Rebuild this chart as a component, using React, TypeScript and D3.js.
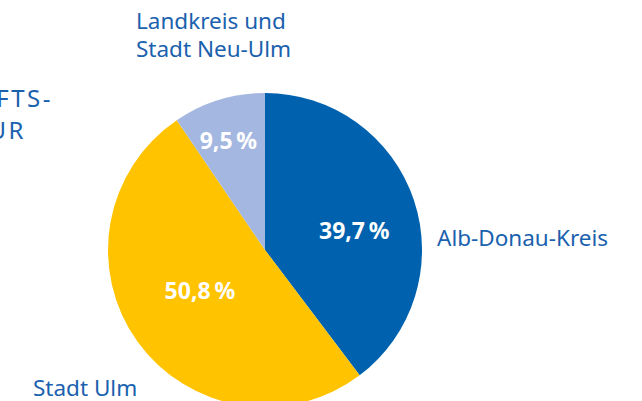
import React from 'react';
import { arc, pie } from 'd3';

const regions = ['Alb-Donau-Kreis', 'Stadt Ulm', 'Landkreis und Stadt Neu-Ulm'];
const shares = [39.7, 50.8, 9.5];
const colors = ['#0062ae', '#ffc300', '#a4b7e0'];

const W = 642;
const H = 401;
const cx = 265;
const cy = 250;
const R = 157;

const fmt = (v: number) => v.toFixed(1).replace('.', ',') + '\u202F%';

const App = () => {
  const arcs = pie<number>().sort(null)(shares);
  const arcGen = arc<any>().innerRadius(0).outerRadius(R);
  const labelArc = arc<any>().innerRadius(R * 0.62).outerRadius(R * 0.62);

  // label offsets relative to the slice centroid, as seen in the picture
  const nudges = [
    [-3, 12],
    [14, -16],
    [-8, -16],
  ];

  const font = "'Noto Sans', sans-serif";
  const blue = '#1a61ae';

  return (
    <div style={{ position: 'fixed', left: 0, top: 0 }}>
      <svg width={W} height={H} style={{ display: 'block', background: '#fff' }}>
        <g transform={`translate(${cx},${cy})`}>
          {arcs.map((a, i) => (
            <path key={i} d={arcGen(a) as string} fill={colors[i]} />
          ))}
          {arcs.map((a, i) => {
            const [x, y] = labelArc.centroid(a);
            return (
              <text
                key={'l' + i}
                x={x + nudges[i][0]}
                y={y + nudges[i][1]}
                textAnchor="middle"
                dy=".35em"
                fontFamily={font}
                fontSize="23px"
                fontWeight="bold"
                fill="#fff"
              >
                {fmt(shares[i])}
              </text>
            );
          })}
        </g>
        <g fontFamily={font} fontSize="22.5px" fill={blue}>
          <text x={437} y={246}>{regions[0]}</text>
          <text x={33} y={396}>{regions[1]}</text>
          <text x={136} y={29}>Landkreis und</text>
          <text x={136} y={57}>Stadt Neu-Ulm</text>
        </g>
        {/* heading of the neighbouring panel, cut by the left edge */}
        <g fontFamily={font} fontSize="24px" fill={blue} letterSpacing="2.5px">
          <text x={53} y={107} textAnchor="end">WIRTSCHAFTS-</text>
          <text x={26} y={139} textAnchor="end">STRUKTUR</text>
        </g>
      </svg>
    </div>
  );
};

export default App;
